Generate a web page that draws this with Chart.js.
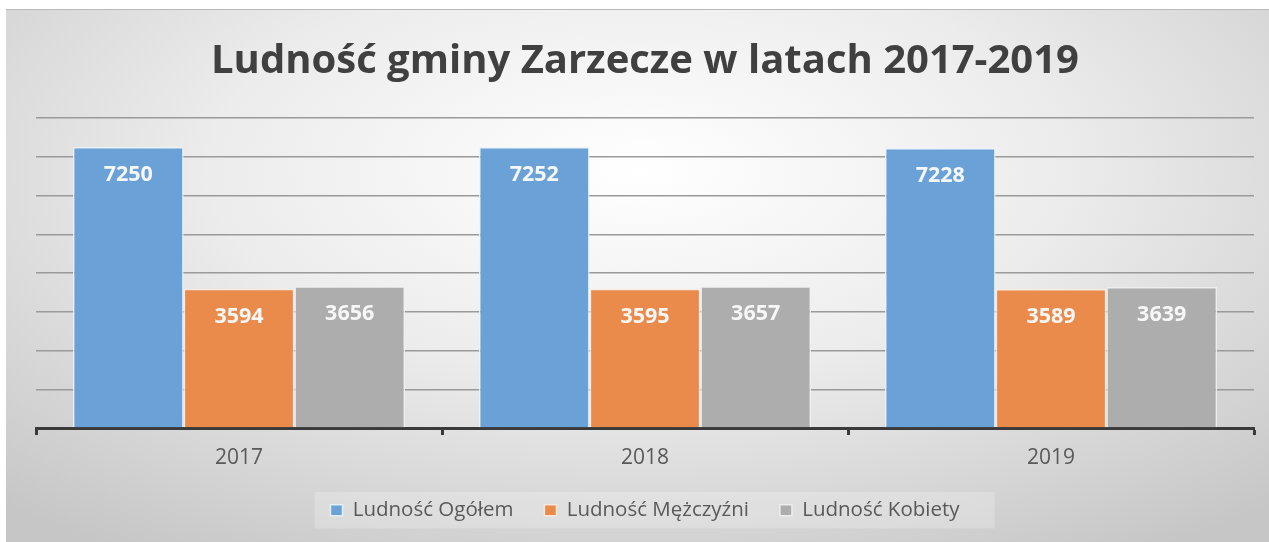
<!DOCTYPE html>
<html>
<head>
<meta charset="utf-8">
<script src="https://cdn.jsdelivr.net/npm/chart.js@4"></script>
<style>
  html, body { margin: 0; padding: 0; background: #ffffff; }
  #wrap {
    position: absolute; left: 6px; top: 9px; width: 1263px; height: 533px;
    background: radial-gradient(ellipse 75% 85% at 50% 30%, #ffffff 0%, #ececec 45%, #c6c6c6 100%);
    border-top: 1px solid #b8b8b8;
  }
  #chart { position: absolute; left: 0; top: 0; }
</style>
</head>
<body>
<div id="wrap"></div>
<canvas id="chart" width="1269" height="542"></canvas>
<script>
const years = ['2017', '2018', '2019'];
const ogolem = [7250, 7252, 7228];
const mezczyzni = [3594, 3595, 3589];
const kobiety = [3656, 3657, 3639];
const seriesNames = ['Ludność Ogółem', 'Ludność Mężczyźni', 'Ludność Kobiety'];
const yTicks = [0, 1000, 2000, 3000, 4000, 5000, 6000, 7000, 8000];

// values written inside the top of each bar
const barLabels = {
  id: 'barLabels',
  afterDatasetsDraw(chart) {
    const ctx = chart.ctx;
    ctx.save();
    ctx.font = 'bold 21.5px "Open Sans"';
    ctx.fillStyle = '#f7f7f7';
    ctx.textAlign = 'center';
    ctx.textBaseline = 'middle';
    chart.data.datasets.forEach((ds, i) => {
      chart.getDatasetMeta(i).data.forEach((bar, j) => {
        ctx.fillText(ds.data[j], bar.x, bar.y + 28);
      });
    });
    ctx.restore();
  }
};

// light band behind the legend items
const legendBand = {
  id: 'legendBand',
  beforeDraw(chart) {
    const boxes = chart.legend.legendHitBoxes;
    if (!boxes || !boxes.length) return;
    const first = boxes[0];
    const last = boxes[boxes.length - 1];
    const ctx = chart.ctx;
    ctx.save();
    ctx.fillStyle = 'rgba(255,255,255,0.22)';
    ctx.fillRect(first.left - 16, first.top - 8, last.left + last.width - first.left + 51, first.height + 16);
    ctx.restore();
  }
};

const ctx = document.getElementById('chart').getContext('2d');
new Chart(ctx, {
  type: 'bar',
  data: {
    labels: years,
    datasets: [{
      label: seriesNames[0],
      data: ogolem,
      backgroundColor: '#6aa1d7',
      borderColor: 'rgba(235,243,250,0.9)',
      borderWidth: 1.5
    }, {
      label: seriesNames[1],
      data: mezczyzni,
      backgroundColor: '#ea8a4b',
      borderColor: 'rgba(250,235,225,0.9)',
      borderWidth: 1.5
    }, {
      label: seriesNames[2],
      data: kobiety,
      backgroundColor: '#adadad',
      borderColor: 'rgba(240,240,240,0.9)',
      borderWidth: 1.5
    }]
  },
  options: {
    responsive: false,
    animation: false,
    categoryPercentage: 0.818,
    barPercentage: 1,
    layout: { padding: { left: 36, right: 15, top: 0, bottom: 11.5 } },
    plugins: {
      title: {
        display: true,
        text: 'Ludność gminy Zarzecze w latach 2017-2019',
        color: '#404040',
        font: { family: 'Open Sans', size: 40, weight: 'bold' },
        padding: { top: 38, bottom: 32 }
      },
      legend: {
        position: 'bottom',
        labels: {
          color: '#595959',
          font: { family: 'Open Sans', size: 20.5 },
          boxWidth: 12,
          boxHeight: 11,
          padding: 31
        }
      },
      tooltip: { enabled: false }
    },
    scales: {
      x: {
        // tighter box than the default (padding is counted twice)
        afterFit: (scale) => { scale.height = 41; },
        grid: {
          offset: true,
          drawOnChartArea: false,
          drawTicks: true,
          tickLength: 7,
          tickWidth: 3,
          tickColor: '#3a3a3a'
        },
        border: { color: '#3a3a3a', width: 3 },
        ticks: {
          color: '#595959',
          font: { family: 'Open Sans', size: 21, lineHeight: 1 },
          padding: 12.5
        }
      },
      y: {
        min: yTicks[0],
        max: yTicks[yTicks.length - 1],
        ticks: { display: false, stepSize: yTicks[1] - yTicks[0] },
        grid: { color: '#9a9a9a', lineWidth: 1.5, drawTicks: false },
        border: { display: false }
      }
    }
  },
  plugins: [legendBand, barLabels]
});
</script>
</body>
</html>
